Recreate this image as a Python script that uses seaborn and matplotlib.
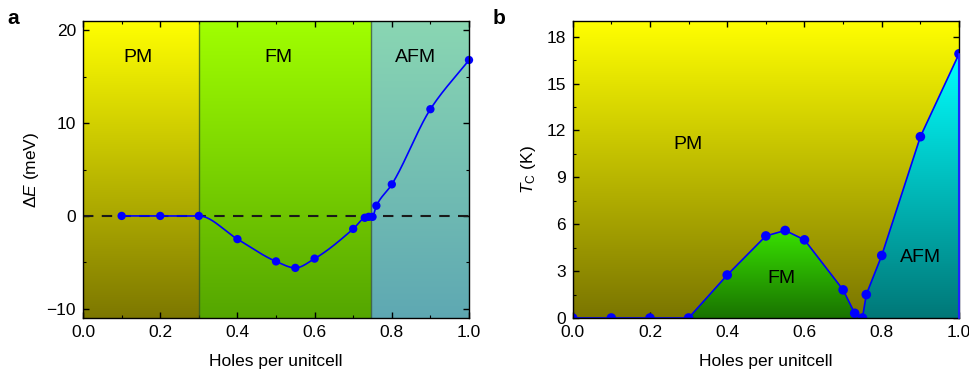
import numpy as np
import pandas as pd
import matplotlib
matplotlib.use("Agg")
import matplotlib.pyplot as plt
import seaborn as sns
from matplotlib.colors import LinearSegmentedColormap
from matplotlib.patches import Polygon
from matplotlib.ticker import MultipleLocator

sns.set_style("ticks")
plt.rcParams['font.family'] = ['Liberation Sans', 'DejaVu Sans']
plt.rcParams['mathtext.fontset'] = 'custom'
plt.rcParams['mathtext.rm'] = 'Liberation Sans'
plt.rcParams['mathtext.it'] = 'Liberation Sans:italic'
for k in ['text.color', 'axes.labelcolor', 'xtick.color', 'ytick.color']:
    plt.rcParams[k] = 'black'

# ---- data panel a ----
holes_a = [0.1, 0.2, 0.3, 0.4, 0.5, 0.55, 0.6, 0.7, 0.73, 0.74, 0.75, 0.76, 0.8, 0.9, 1.0]
dE = [0.0, 0.0, 0.0, -2.5, -4.9, -5.6, -4.6, -1.4, -0.2, -0.1, -0.1, 1.1, 3.4, 11.5, 16.8]
phase_bounds_a = [0.0, 0.3, 0.745, 1.0]
phase_names = ["PM", "FM", "AFM"]

# ---- data panel b ----
holes_b = [0.0, 0.1, 0.2, 0.3, 0.4, 0.5, 0.55, 0.6, 0.7, 0.73, 0.75, 0.76, 0.8, 0.9, 1.0]
Tc = [0.0, 0.0, 0.0, 0.0, 2.75, 5.25, 5.6, 5.0, 1.8, 0.3, 0.0, 1.5, 4.0, 11.6, 16.9]


def pchip(x, y, n=500):
    x = np.asarray(x, float); y = np.asarray(y, float)
    h = np.diff(x); delta = np.diff(y) / h
    N = len(x); d = np.zeros(N)
    for k in range(1, N - 1):
        if delta[k - 1] * delta[k] > 0:
            w1 = 2 * h[k] + h[k - 1]; w2 = h[k] + 2 * h[k - 1]
            d[k] = (w1 + w2) / (w1 / delta[k - 1] + w2 / delta[k])
    d[0] = delta[0]; d[-1] = delta[-1]
    xs = np.linspace(x[0], x[-1], n)
    idx = np.clip(np.searchsorted(x, xs) - 1, 0, N - 2)
    t = (xs - x[idx]) / h[idx]
    h00 = 2 * t**3 - 3 * t**2 + 1; h10 = t**3 - 2 * t**2 + t
    h01 = -2 * t**3 + 3 * t**2; h11 = t**3 - t**2
    ys = h00 * y[idx] + h10 * h[idx] * d[idx] + h01 * y[idx + 1] + h11 * h[idx] * d[idx + 1]
    return xs, ys


def vgrad(ax, extent, top, bottom, clip=None, z=0):
    cmap = LinearSegmentedColormap.from_list("g", [bottom, top])
    grad = np.linspace(0, 1, 256).reshape(-1, 1)
    im = ax.imshow(grad, cmap=cmap, extent=extent, origin="lower", aspect="auto",
                   zorder=z, interpolation="bicubic")
    if clip is not None:
        im.set_clip_path(clip)
    return im


def style_axes(ax, xmaj, xmin, ymaj, ymin):
    ax.xaxis.set_major_locator(MultipleLocator(xmaj))
    ax.xaxis.set_minor_locator(MultipleLocator(xmin))
    ax.yaxis.set_major_locator(MultipleLocator(ymaj))
    ax.yaxis.set_minor_locator(MultipleLocator(ymin))
    ax.tick_params(which="both", direction="in", top=True, right=True, color="black")
    ax.tick_params(which="major", length=4, width=1, labelsize=12.5, pad=5)
    ax.tick_params(which="minor", length=2, width=0.8)
    for s in ax.spines.values():
        s.set_linewidth(1.0)
        s.set_color("black")
        s.set_zorder(10)


fig = plt.figure(figsize=(9.69, 3.78), dpi=100)
axA = fig.add_axes([0.0857, 0.1587, 0.3983, 0.7857])
axB = fig.add_axes([0.591, 0.1587, 0.3987, 0.7857])

# ---- panel a ----
ylo, yhi = -11, 21
cols = [((1, 1, 0), (0.49, 0.47, 0.0)),
        ((0.63, 1.0, 0.0), (0.33, 0.65, 0.0)),
        ((0.54, 0.84, 0.70), (0.37, 0.66, 0.70))]
for i, (t, b) in enumerate(cols):
    vgrad(axA, [phase_bounds_a[i], phase_bounds_a[i + 1], ylo, yhi], t, b)
for xb in phase_bounds_a[1:3]:
    axA.axvline(xb, color=(0.2, 0.3, 0.15), lw=1.0, alpha=0.7, zorder=2)
axA.axhline(0, color="#1a1a1a", lw=1.5, ls=(0, (5, 4)), zorder=3)
xs, ys = pchip(holes_a, dE)
sns.lineplot(x=xs, y=ys, ax=axA, color="#0000ff", lw=1.2, zorder=5, sort=False)
sns.scatterplot(x=holes_a, y=dE, ax=axA, color="#0000ff", s=36, edgecolor="none",
                zorder=6, clip_on=False)
axA.set_xlim(0, 1)
axA.set_ylim(ylo, yhi)
style_axes(axA, 0.2, 0.1, 10, 5)
axA.set_xlabel("Holes per unitcell", fontsize=12.5, labelpad=10)
axA.set_ylabel(r"$\Delta E$ (meV)", fontsize=12.5, labelpad=4)
axA.set_xticks([0.0, 0.2, 0.4, 0.6, 0.8, 1.0])
axA.set_xticklabels(["0.0", "0.2", "0.4", "0.6", "0.8", "1.0"])
for name, xp in zip(phase_names, [0.143, 0.505, 0.862]):
    axA.text(xp, 17.1, name, ha="center", va="center", fontsize=14, zorder=7)

# ---- panel b ----
y0, y1 = 0, 19
vgrad(axB, [0, 1, y0, y1], (1, 1, 0), (0.48, 0.46, 0.0))
fm_x = holes_b[3:11]; fm_y = Tc[3:11]
fm_poly = Polygon(np.column_stack([fm_x, fm_y]), closed=True, facecolor="none",
                  edgecolor="none", transform=axB.transData)
axB.add_patch(fm_poly)
vgrad(axB, [0.3, 0.75, 0, max(fm_y)], (0.22, 0.88, 0.0), (0.10, 0.45, 0.0), clip=fm_poly, z=1)
af_x = holes_b[10:] + [1.0]; af_y = Tc[10:] + [0.0]
af_poly = Polygon(np.column_stack([af_x, af_y]), closed=True, facecolor="none",
                  edgecolor="none", transform=axB.transData)
axB.add_patch(af_poly)
vgrad(axB, [0.75, 1.0, 0, max(af_y)], (0.0, 1.0, 1.0), (0.0, 0.47, 0.47), clip=af_poly, z=1)
axB.plot([1.0, 1.0], [0, Tc[-1]], color="#2020ff", lw=1.5, zorder=11, clip_on=False)
sns.lineplot(x=holes_b, y=Tc, ax=axB, color="#0000ff", lw=1.2, zorder=5, sort=False)
sns.scatterplot(x=holes_b, y=Tc, ax=axB, color="#0000ff", s=48, edgecolor="none", zorder=6)
axB.set_xlim(0, 1)
axB.set_ylim(y0, y1)
style_axes(axB, 0.2, 0.1, 3, 1.5)
axB.set_xlabel("Holes per unitcell", fontsize=12.5, labelpad=10)
axB.set_ylabel(r"$T_{\mathrm{C}}$ (K)", fontsize=12.5, labelpad=6)
axB.set_xticks([0.0, 0.2, 0.4, 0.6, 0.8, 1.0])
axB.set_xticklabels(["0.0", "0.2", "0.4", "0.6", "0.8", "1.0"])
axB.text(0.298, 11.1, "PM", ha="center", va="center", fontsize=14, zorder=7)
axB.text(0.54, 2.5, "FM", ha="center", va="center", fontsize=14, zorder=7)
axB.text(0.9, 3.85, "AFM", ha="center", va="center", fontsize=14, zorder=7)

fig.text(0.008, 0.975, "a", fontsize=15, fontweight="bold", va="top", ha="left")
fig.text(0.508, 0.975, "b", fontsize=15, fontweight="bold", va="top", ha="left")

fig.savefig("out.png", dpi=100)
